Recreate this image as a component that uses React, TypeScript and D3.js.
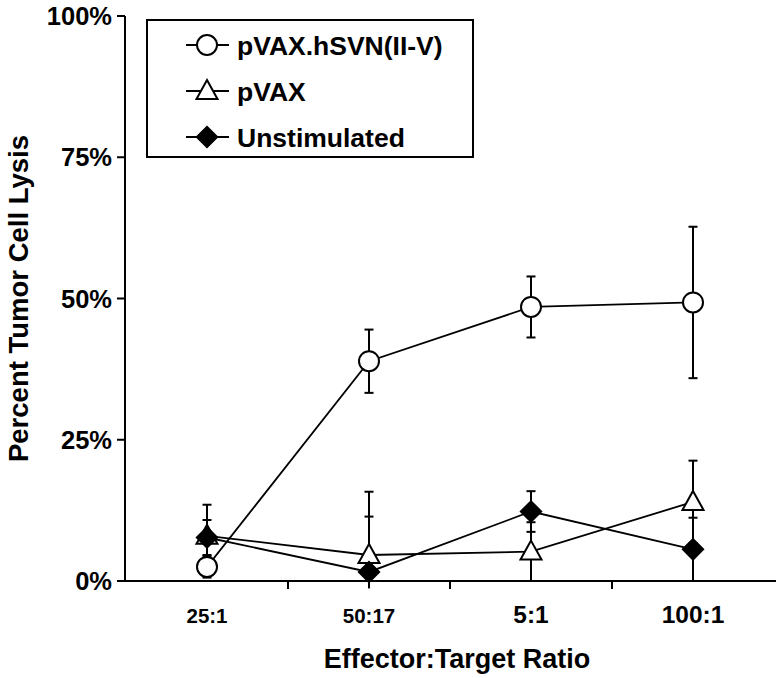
import React from "react";
import * as d3 from "d3";

const categories = ["25:1", "50:17", "5:1", "100:1"];
const yTicks = [0, 25, 50, 75, 100];

const hsvnMean = [2.5, 38.9, 48.5, 49.3];
const hsvnErr = [1.9, 5.6, 5.4, 13.4];
const pvaxMean = [8.0, 4.6, 5.2, 14.0];
const pvaxErr = [5.5, 11.2, 5.2, 7.3];
const unstimMean = [7.7, 1.6, 12.3, 5.6];
const unstimErr = [3.1, 9.8, 3.6, 5.6];

const seriesNames = ["pVAX.hSVN(II-V)", "pVAX", "Unstimulated"];

const W = 776;
const H = 678;
const FONT = "'Liberation Sans', Arial, Helvetica, sans-serif";

type Shape = "circle" | "triangle" | "diamond";

function Marker({ shape, x, y }: { shape: Shape; x: number; y: number }) {
  if (shape === "circle") {
    return <circle cx={x} cy={y} r={10} fill="white" stroke="black" strokeWidth={2} />;
  }
  if (shape === "triangle") {
    const p = `${x},${y - 11} ${x + 10.5},${y + 8} ${x - 10.5},${y + 8}`;
    return <polygon points={p} fill="white" stroke="black" strokeWidth={2} />;
  }
  const p = `${x},${y - 10.5} ${x + 10.5},${y} ${x},${y + 10.5} ${x - 10.5},${y}`;
  return <polygon points={p} fill="black" stroke="black" strokeWidth={1.5} />;
}

export default function App() {
  const x = d3.scaleBand<string>().domain(categories).range([126, 774]).padding(0);
  const y = d3.scaleLinear().domain([0, 100]).range([581, 16]);
  const cx = (c: string) => (x(c) as number) + x.bandwidth() / 2;
  const floor = -1.3;

  const series: { name: string; mean: number[]; err: number[]; shape: Shape }[] = [
    { name: seriesNames[0], mean: hsvnMean, err: hsvnErr, shape: "circle" },
    { name: seriesNames[1], mean: pvaxMean, err: pvaxErr, shape: "triangle" },
    { name: seriesNames[2], mean: unstimMean, err: unstimErr, shape: "diamond" },
  ];

  const line = d3
    .line<number>()
    .x((_, i) => cx(categories[i]))
    .y((d) => y(d));

  const boundaries = categories.map((c) => x(c) as number).slice(1);
  const xLabelSize = [20.5, 20.5, 24.5, 24.5];

  return (
    <svg width={W} height={H} style={{ position: "absolute", left: 0, top: 0, background: "white" }}>
      <rect x={0} y={0} width={W} height={H} fill="white" />
      {/* axes */}
      <line x1={125} y1={y(100)} x2={125} y2={582} stroke="black" strokeWidth={2} />
      <line x1={124} y1={581} x2={776} y2={581} stroke="black" strokeWidth={2} />
      {yTicks.map((t) => (
        <g key={t}>
          <line x1={117} x2={125} y1={y(t)} y2={y(t)} stroke="black" strokeWidth={2} />
          <text
            x={112}
            y={y(t)}
            dy="0.36em"
            textAnchor="end"
            fontFamily={FONT}
            fontWeight="bold"
            fontSize={25.5}
          >
            {t + "%"}
          </text>
        </g>
      ))}
      {boundaries.map((b, i) => (
        <line key={i} x1={b} x2={b} y1={581} y2={589} stroke="black" strokeWidth={2} />
      ))}
      {categories.map((c, i) => (
        <text
          key={c}
          x={cx(c)}
          y={623}
          textAnchor="middle"
          fontFamily={FONT}
          fontWeight="bold"
          fontSize={xLabelSize[i]}
        >
          {c}
        </text>
      ))}
      <text
        x={457}
        y={668}
        textAnchor="middle"
        fontFamily={FONT}
        fontWeight="bold"
        fontSize={27}
      >
        Effector:Target Ratio
      </text>
      <text
        transform={`translate(28, ${y(50)}) rotate(-90)`}
        textAnchor="middle"
        fontFamily={FONT}
        fontWeight="bold"
        fontSize={27.5}
      >
        Percent Tumor Cell Lysis
      </text>

      {/* error bars */}
      {series.map((s) =>
        s.mean.map((m, i) => {
          const X = cx(categories[i]);
          const hi = m + s.err[i];
          const lo = Math.max(m - s.err[i], floor);
          return (
            <g key={s.name + i}>
              <line x1={X} x2={X} y1={y(hi)} y2={y(lo)} stroke="black" strokeWidth={2} />
              <line x1={X - 4.5} x2={X + 4.5} y1={y(hi)} y2={y(hi)} stroke="black" strokeWidth={2} />
              {lo > floor && (
                <line x1={X - 4.5} x2={X + 4.5} y1={y(lo)} y2={y(lo)} stroke="black" strokeWidth={2} />
              )}
            </g>
          );
        })
      )}
      {/* lines */}
      {series.map((s) => (
        <path key={s.name} d={line(s.mean) as string} fill="none" stroke="black" strokeWidth={1.8} />
      ))}
      {/* markers */}
      {series.map((s) =>
        s.mean.map((m, i) => <Marker key={s.name + "m" + i} shape={s.shape} x={cx(categories[i])} y={y(m)} />)
      )}

      {/* legend */}
      <rect x={147} y={20} width={326} height={137} fill="white" stroke="black" strokeWidth={2} />
      {series.map((s, i) => {
        const ly = 45 + i * 46;
        return (
          <g key={s.name + "leg"}>
            <line x1={186} x2={229} y1={ly} y2={ly} stroke="black" strokeWidth={1.8} />
            <Marker shape={s.shape} x={207} y={ly} />
            <text
              x={237}
              y={ly}
              dy="0.36em"
              fontFamily={FONT}
              fontWeight="bold"
              fontSize={26.5}
            >
              {s.name}
            </text>
          </g>
        );
      })}
    </svg>
  );
}
